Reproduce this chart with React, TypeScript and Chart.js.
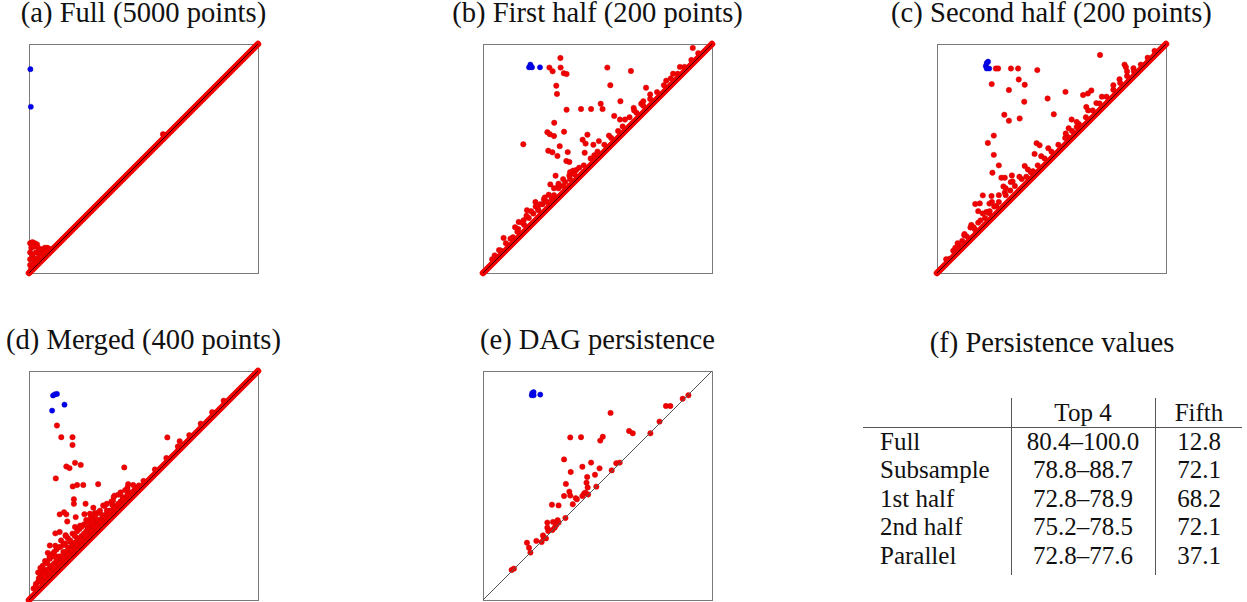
import React, { useEffect, useRef } from 'react';
import { Chart, registerables } from 'chart.js';

Chart.register(...registerables);

type P = [number, number];

// ---- Data (birth, death) ----
const diagonal: P[] = [[0, 0], [1, 1]];

const fullBlue: P[] = [[0.006, 0.89], [0.008, 0.726]];
const fullRed: P[] = [
  [0.005, 0.13], [0.015, 0.135], [0.025, 0.13], [0.035, 0.125], [0.01, 0.11], [0.02, 0.115],
  [0.04, 0.11], [0.05, 0.1], [0.06, 0.105], [0.07, 0.11], [0.08, 0.11], [0.09, 0.105],
  [0.005, 0.09], [0.015, 0.08], [0.03, 0.09], [0.045, 0.085], [0.06, 0.085], [0.075, 0.095],
  [0.005, 0.06], [0.02, 0.06], [0.035, 0.065], [0.05, 0.07], [0.005, 0.035], [0.02, 0.04],
  [0.035, 0.045], [0.01, 0.02], [0.585, 0.606], [0.59, 0.603],
];

const firstBlue: P[] = [[0.207, 0.91], [0.201, 0.898], [0.214, 0.898], [0.209, 0.903], [0.249, 0.898]];
const firstRed: P[] = [
  [0.338, 0.939], [0.29, 0.897], [0.304, 0.881], [0.339, 0.897], [0.353, 0.872], [0.365, 0.869],
  [0.916, 0.983], [0.543, 0.897], [0.646, 0.882], [0.32, 0.818], [0.323, 0.782], [0.556, 0.82],
  [0.712, 0.809], [0.365, 0.713], [0.428, 0.716], [0.472, 0.716], [0.514, 0.739], [0.522, 0.716],
  [0.6, 0.75], [0.573, 0.686], [0.598, 0.67], [0.658, 0.721], [0.691, 0.739], [0.311, 0.656],
  [0.281, 0.615], [0.292, 0.606], [0.31, 0.598], [0.354, 0.617], [0.176, 0.562], [0.456, 0.604],
  [0.435, 0.582], [0.448, 0.565], [0.482, 0.56], [0.506, 0.576], [0.335, 0.554], [0.285, 0.534],
  [0.303, 0.527], [0.37, 0.528], [0.325, 0.511], [0.444, 0.525], [0.486, 0.514], [0.364, 0.489],
  [0.377, 0.485], [0.393, 0.447], [0.407, 0.45], [0.317, 0.425], [0.377, 0.425], [0.294, 0.387],
  [0.329, 0.381], [0.359, 0.397], [0.287, 0.342], [0.3, 0.323], [0.266, 0.322], [0.229, 0.31],
  [0.192, 0.274], [0.156, 0.223], [0.154, 0.192], [0.178, 0.231], [0.09, 0.153], [0.051, 0.077],
  [0.131, 0.156], [0.076, 0.099], [0.242, 0.274],
  [0.04, 0.06], [0.07, 0.1], [0.1, 0.13], [0.12, 0.15], [0.15, 0.18], [0.18, 0.21], [0.2, 0.24],
  [0.22, 0.26], [0.24, 0.28], [0.26, 0.3], [0.28, 0.31], [0.31, 0.34], [0.33, 0.37], [0.35, 0.38],
  [0.38, 0.41], [0.4, 0.43], [0.42, 0.46], [0.44, 0.47], [0.47, 0.5], [0.5, 0.53], [0.53, 0.56],
  [0.56, 0.59], [0.59, 0.62], [0.61, 0.64], [0.64, 0.68], [0.67, 0.7], [0.7, 0.73], [0.73, 0.76],
  [0.76, 0.79], [0.79, 0.82], [0.82, 0.85], [0.85, 0.87], [0.88, 0.9], [0.91, 0.93], [0.94, 0.96],
  [0.25, 0.3], [0.27, 0.33], [0.23, 0.29], [0.21, 0.27], [0.33, 0.39], [0.35, 0.41], [0.38, 0.44],
  [0.31, 0.37], [0.19, 0.25], [0.17, 0.22], [0.14, 0.2], [0.55, 0.6], [0.62, 0.67], [0.66, 0.71],
  [0.7, 0.75], [0.73, 0.78], [0.8, 0.84], [0.83, 0.87], [0.86, 0.9],
];

const secondBlue: P[] = [[0.217, 0.917], [0.223, 0.923], [0.213, 0.904], [0.217, 0.893], [0.228, 0.893]];
const secondRed: P[] = [
  [0.712, 0.952], [0.257, 0.893], [0.267, 0.893], [0.323, 0.893], [0.354, 0.893], [0.438, 0.886],
  [0.239, 0.825], [0.357, 0.845], [0.383, 0.822], [0.314, 0.799], [0.561, 0.791], [0.381, 0.748],
  [0.483, 0.762], [0.638, 0.777], [0.659, 0.784], [0.674, 0.797], [0.294, 0.691], [0.314, 0.665],
  [0.361, 0.675], [0.51, 0.693], [0.588, 0.67], [0.652, 0.725], [0.696, 0.742], [0.819, 0.91],
  [0.825, 0.899], [0.858, 0.894], [0.797, 0.846], [0.248, 0.6], [0.222, 0.568], [0.248, 0.516],
  [0.435, 0.567], [0.448, 0.558], [0.426, 0.52], [0.455, 0.51], [0.486, 0.545], [0.562, 0.609],
  [0.571, 0.594], [0.575, 0.632], [0.61, 0.638], [0.27, 0.47], [0.242, 0.438], [0.281, 0.416],
  [0.296, 0.416], [0.327, 0.426], [0.383, 0.467], [0.397, 0.452], [0.419, 0.445], [0.322, 0.397],
  [0.29, 0.378], [0.296, 0.351], [0.2, 0.339], [0.238, 0.336], [0.167, 0.301], [0.187, 0.304],
  [0.229, 0.303], [0.259, 0.293], [0.18, 0.27], [0.216, 0.267], [0.228, 0.261], [0.18, 0.22],
  [0.146, 0.199], [0.165, 0.191], [0.119, 0.165], [0.093, 0.122], [0.071, 0.097], [0.054, 0.061],
  [0.04, 0.06], [0.08, 0.11], [0.11, 0.14], [0.13, 0.16], [0.16, 0.2], [0.19, 0.23], [0.21, 0.24],
  [0.23, 0.27], [0.25, 0.29], [0.27, 0.31], [0.3, 0.34], [0.32, 0.36], [0.34, 0.38], [0.37, 0.41],
  [0.39, 0.42], [0.41, 0.44], [0.44, 0.47], [0.47, 0.5], [0.5, 0.53], [0.53, 0.56], [0.56, 0.59],
  [0.59, 0.62], [0.62, 0.65], [0.65, 0.68], [0.68, 0.71], [0.71, 0.74], [0.74, 0.77], [0.77, 0.8],
  [0.8, 0.83], [0.83, 0.86], [0.86, 0.88], [0.89, 0.91], [0.92, 0.94], [0.95, 0.97],
  [0.2, 0.26], [0.24, 0.31], [0.27, 0.34], [0.3, 0.37], [0.33, 0.4], [0.36, 0.42], [0.15, 0.21],
  [0.12, 0.17], [0.09, 0.13], [0.61, 0.66], [0.66, 0.71], [0.72, 0.77], [0.77, 0.82], [0.83, 0.88],
];

const mergedBlue: P[] = [[0.105, 0.893], [0.113, 0.898], [0.122, 0.9], [0.155, 0.853], [0.101, 0.827]];
const mergedRed: P[] = [
  [0.122, 0.762], [0.141, 0.711], [0.19, 0.711], [0.19, 0.677], [0.604, 0.71], [0.658, 0.693],
  [0.163, 0.583], [0.177, 0.576], [0.201, 0.599], [0.226, 0.59], [0.117, 0.531], [0.416, 0.579],
  [0.191, 0.496], [0.21, 0.502], [0.237, 0.502], [0.302, 0.506], [0.433, 0.506], [0.455, 0.502],
  [0.374, 0.456], [0.196, 0.44], [0.196, 0.42], [0.247, 0.42], [0.281, 0.403], [0.324, 0.413],
  [0.367, 0.434], [0.364, 0.415], [0.41, 0.449], [0.134, 0.374], [0.153, 0.383], [0.163, 0.374],
  [0.204, 0.362], [0.242, 0.375], [0.266, 0.377], [0.288, 0.38], [0.167, 0.343], [0.201, 0.319],
  [0.223, 0.325], [0.115, 0.291], [0.134, 0.297], [0.16, 0.283], [0.256, 0.317], [0.273, 0.314],
  [0.295, 0.333], [0.091, 0.238], [0.115, 0.237], [0.137, 0.232], [0.158, 0.247], [0.18, 0.254],
  [0.082, 0.206], [0.091, 0.182], [0.112, 0.192], [0.058, 0.124], [0.072, 0.131], [0.101, 0.139],
  [0.043, 0.095], [0.23, 0.261], [0.317, 0.333],
  [0.03, 0.07], [0.05, 0.1], [0.06, 0.09], [0.07, 0.12], [0.08, 0.11], [0.09, 0.14], [0.1, 0.13],
  [0.11, 0.16], [0.12, 0.15], [0.13, 0.19], [0.14, 0.17], [0.15, 0.21], [0.16, 0.19], [0.17, 0.23],
  [0.18, 0.21], [0.19, 0.24], [0.2, 0.23], [0.21, 0.27], [0.22, 0.25], [0.23, 0.28], [0.24, 0.27],
  [0.25, 0.3], [0.26, 0.29], [0.27, 0.32], [0.28, 0.31], [0.29, 0.34], [0.3, 0.33], [0.31, 0.35],
  [0.32, 0.35], [0.33, 0.37], [0.34, 0.37], [0.35, 0.39], [0.36, 0.39], [0.38, 0.41], [0.4, 0.43],
  [0.42, 0.44], [0.44, 0.47], [0.46, 0.48], [0.48, 0.5], [0.5, 0.52],
  [0.07, 0.17], [0.1, 0.2], [0.12, 0.22], [0.14, 0.26], [0.19, 0.29], [0.22, 0.31], [0.25, 0.35],
  [0.27, 0.36], [0.3, 0.38], [0.33, 0.41], [0.36, 0.43], [0.39, 0.46], [0.42, 0.48],
  [0.06, 0.15], [0.09, 0.18], [0.11, 0.21], [0.17, 0.27], [0.2, 0.28], [0.24, 0.33], [0.28, 0.35],
  [0.55, 0.57], [0.6, 0.62], [0.65, 0.67], [0.7, 0.72], [0.75, 0.77], [0.8, 0.82], [0.85, 0.87],
  [0.02, 0.05], [0.03, 0.06], [0.04, 0.08], [0.05, 0.08], [0.06, 0.11], [0.07, 0.1], [0.08, 0.13],
  [0.09, 0.12], [0.1, 0.15], [0.11, 0.14], [0.12, 0.17], [0.13, 0.16], [0.14, 0.19], [0.15, 0.18],
  [0.16, 0.21], [0.17, 0.2], [0.18, 0.22], [0.19, 0.22], [0.2, 0.25], [0.21, 0.24], [0.22, 0.27],
  [0.23, 0.26], [0.24, 0.29], [0.25, 0.28], [0.26, 0.31], [0.27, 0.3], [0.28, 0.33], [0.29, 0.32],
  [0.3, 0.35], [0.31, 0.34], [0.32, 0.37], [0.33, 0.36], [0.34, 0.39], [0.35, 0.38], [0.37, 0.4],
  [0.39, 0.42], [0.41, 0.44], [0.43, 0.46], [0.45, 0.47], [0.47, 0.49],
  [0.04, 0.12], [0.05, 0.14], [0.08, 0.16], [0.09, 0.19], [0.11, 0.19], [0.13, 0.23], [0.15, 0.24],
  [0.16, 0.28], [0.18, 0.26], [0.21, 0.3], [0.23, 0.32], [0.26, 0.34], [0.29, 0.37], [0.31, 0.39],
  [0.34, 0.42], [0.37, 0.45], [0.4, 0.47], [0.43, 0.49],
];

const dagBlue: P[] = [[0.215, 0.904], [0.221, 0.908], [0.213, 0.894], [0.221, 0.894], [0.25, 0.897]];
const dagRed: P[] = [
  [0.557, 0.817], [0.799, 0.847], [0.818, 0.847], [0.872, 0.879], [0.897, 0.894], [0.771, 0.779],
  [0.638, 0.738], [0.654, 0.728], [0.731, 0.728], [0.381, 0.71], [0.428, 0.711], [0.512, 0.696],
  [0.523, 0.713], [0.354, 0.614], [0.434, 0.582], [0.472, 0.6], [0.509, 0.575], [0.383, 0.559],
  [0.582, 0.597], [0.597, 0.6], [0.562, 0.566], [0.455, 0.537], [0.489, 0.547], [0.362, 0.507],
  [0.452, 0.512], [0.457, 0.491], [0.495, 0.495], [0.377, 0.473], [0.381, 0.456], [0.354, 0.454],
  [0.405, 0.445], [0.41, 0.44], [0.441, 0.464], [0.447, 0.469], [0.434, 0.454], [0.459, 0.461],
  [0.392, 0.418], [0.301, 0.416], [0.33, 0.413], [0.36, 0.358], [0.281, 0.338], [0.306, 0.341],
  [0.326, 0.349], [0.33, 0.338], [0.32, 0.328], [0.281, 0.316], [0.285, 0.301], [0.313, 0.316],
  [0.303, 0.306], [0.262, 0.282], [0.265, 0.272], [0.275, 0.269], [0.233, 0.258], [0.256, 0.253],
  [0.192, 0.25], [0.201, 0.228], [0.207, 0.207], [0.125, 0.131], [0.135, 0.137],
];

const panelTitles = [
  '(a) Full (5000 points)',
  '(b) First half (200 points)',
  '(c) Second half (200 points)',
  '(d) Merged (400 points)',
  '(e) DAG persistence',
];
const tableTitle = '(f) Persistence values';
const tableColumns = ['Top 4', 'Fifth'];
const tableRowLabels = ['Full', 'Subsample', '1st half', '2nd half', 'Parallel'];
const tableTop4 = ['80.4–100.0', '78.8–88.7', '72.8–78.9', '75.2–78.5', '72.8–77.6'];
const tableFifth = ['12.8', '72.1', '68.2', '72.1', '37.1'];

// ---- Layout ----
const BOX = 229;
const PAD = 8;
const FONT = "'Liberation Serif', serif";
const TITLE_SIZE = 28.6;
const CELL_SIZE = 25;
const RED = '#f20000';
const RED_EDGE = '#d00000';

const framePlugin = {
  id: 'frame',
  beforeDatasetsDraw(chart: any) {
    const { ctx, chartArea } = chart;
    ctx.save();
    ctx.strokeStyle = '#7a7a7a';
    ctx.lineWidth = 1;
    ctx.strokeRect(
      Math.round(chartArea.left) + 0.5,
      Math.round(chartArea.top) + 0.5,
      Math.round(chartArea.right - chartArea.left),
      Math.round(chartArea.bottom - chartArea.top)
    );
    ctx.restore();
  },
};

const toXY = (a: P[]) => a.map(([x, y]) => ({ x, y }));

function Diagram(props: { red: P[]; blue: P[]; band: boolean; diagColor: string; left: number; top: number }) {
  const ref = useRef<HTMLCanvasElement>(null);
  useEffect(() => {
    const datasets: any[] = [];
    if (props.band) {
      datasets.push({
        data: toXY(diagonal), showLine: true, borderColor: RED, borderWidth: 6.5,
        borderCapStyle: 'round', pointRadius: 0, order: 4, clip: false,
      });
    }
    datasets.push({
      data: toXY(props.red), showLine: false, backgroundColor: RED, borderColor: RED_EDGE,
      borderWidth: 0.5, pointRadius: 2.7, order: 3, clip: false,
    });
    datasets.push({
      data: toXY(diagonal), showLine: true, borderColor: props.diagColor, borderWidth: 1,
      pointRadius: 0, order: 2, clip: false,
    });
    datasets.push({
      data: toXY(props.blue), showLine: false, backgroundColor: '#0000f0', borderColor: '#0000c0',
      borderWidth: 0.5, pointRadius: 2.6, order: 1, clip: false,
    });
    const chart = new Chart(ref.current as HTMLCanvasElement, {
      type: 'scatter',
      data: { datasets },
      options: {
        animation: false,
        responsive: false,
        devicePixelRatio: 1,
        events: [],
        layout: { padding: PAD },
        scales: {
          x: { type: 'linear', min: 0, max: 1, display: false },
          y: { type: 'linear', min: 0, max: 1, display: false },
        },
        plugins: { legend: { display: false }, tooltip: { enabled: false }, title: { display: false } },
      } as any,
      plugins: [framePlugin],
    });
    return () => chart.destroy();
  }, []);
  const size = BOX + 2 * PAD;
  return (
    <canvas
      ref={ref}
      width={size}
      height={size}
      style={{ position: 'absolute', left: props.left - PAD, top: props.top - PAD, width: size, height: size }}
    />
  );
}

function Title(props: { text: string; cx: number; baseline: number; size: number }) {
  const lh = props.size * 1.15;
  const top = props.baseline - ((lh - props.size * 1.107) / 2 + props.size * 0.891);
  return (
    <div
      style={{
        position: 'absolute', left: props.cx - 250, width: 500, top, height: lh, lineHeight: lh + 'px',
        textAlign: 'center', fontFamily: FONT, fontSize: props.size, color: '#111', whiteSpace: 'nowrap',
      }}
    >
      {props.text}
    </div>
  );
}

function Cell(props: { text: string; x: number; baseline: number; align: 'left' | 'center' }) {
  const size = CELL_SIZE;
  const lh = 28;
  const top = props.baseline - ((lh - size * 1.107) / 2 + size * 0.891);
  const style: any = {
    position: 'absolute', top, height: lh, lineHeight: lh + 'px', fontFamily: FONT, fontSize: size,
    color: '#111', whiteSpace: 'nowrap',
  };
  if (props.align === 'center') {
    style.left = props.x - 100;
    style.width = 200;
    style.textAlign = 'center';
  } else {
    style.left = props.x;
  }
  return <div style={style}>{props.text}</div>;
}

export default function App() {
  const panels = [
    { red: fullRed, blue: fullBlue, band: true, diag: '#3a0000', left: 29, top: 44 },
    { red: firstRed, blue: firstBlue, band: true, diag: '#3a0000', left: 483, top: 44 },
    { red: secondRed, blue: secondBlue, band: true, diag: '#3a0000', left: 937, top: 44 },
    { red: mergedRed, blue: mergedBlue, band: true, diag: '#3a0000', left: 29, top: 371 },
    { red: dagRed, blue: dagBlue, band: false, diag: '#555555', left: 483, top: 371 },
  ];
  const rowBaselines = [450, 478.5, 507, 535.5, 564];
  return (
    <div style={{ position: 'absolute', left: 0, top: 0, width: 1247, height: 602, background: '#fff', overflow: 'hidden' }}>
      {panels.map((p, i) => (
        <React.Fragment key={i}>
          <Title text={panelTitles[i]} cx={p.left + BOX / 2} baseline={p.top - 21} size={TITLE_SIZE} />
          <Diagram red={p.red} blue={p.blue} band={p.band} diagColor={p.diag} left={p.left} top={p.top} />
        </React.Fragment>
      ))}
      <Title text={tableTitle} cx={1052} baseline={353} size={TITLE_SIZE} />
      <div style={{ position: 'absolute', left: 863, top: 427, width: 379, height: 1, background: '#555' }} />
      <div style={{ position: 'absolute', left: 1011, top: 398, width: 1, height: 177, background: '#555' }} />
      <div style={{ position: 'absolute', left: 1155, top: 398, width: 1, height: 177, background: '#555' }} />
      <Cell text={tableColumns[0]} x={1083} baseline={421.5} align="center" />
      <Cell text={tableColumns[1]} x={1199} baseline={421.5} align="center" />
      {tableRowLabels.map((r, i) => (
        <React.Fragment key={r}>
          <Cell text={r} x={880} baseline={rowBaselines[i]} align="left" />
          <Cell text={tableTop4[i]} x={1083} baseline={rowBaselines[i]} align="center" />
          <Cell text={tableFifth[i]} x={1199} baseline={rowBaselines[i]} align="center" />
        </React.Fragment>
      ))}
    </div>
  );
}
